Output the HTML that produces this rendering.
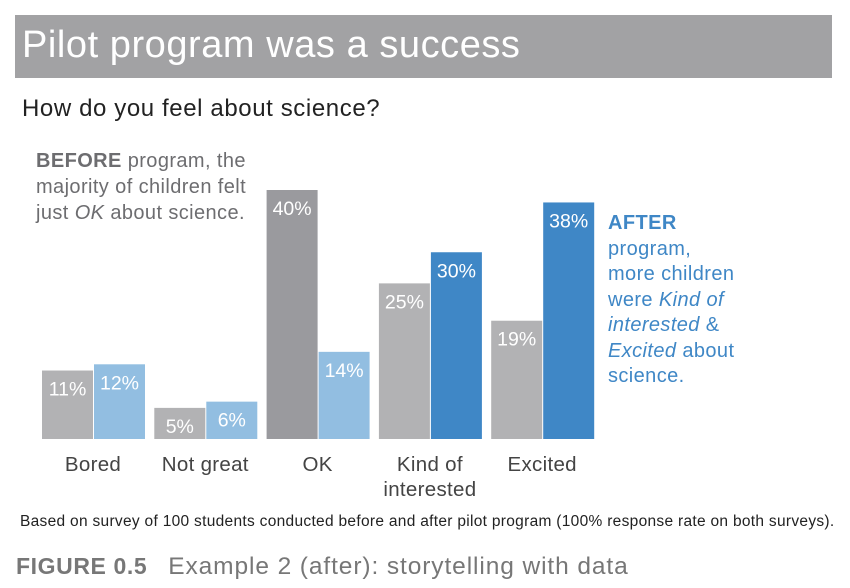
<!DOCTYPE html>
<html><head><meta charset="utf-8"><style>
body{margin:0;width:850px;height:588px;background:#fff;font-family:"Liberation Sans",sans-serif;overflow:hidden;position:relative}
.t{position:absolute;white-space:nowrap}
</style></head><body>
<div style="position:absolute;left:15px;top:15px;width:817px;height:63px;background:#a2a2a4"></div>
<div class="t" style="left:22px;top:24px;font-size:38px;color:#fff;letter-spacing:0.55px">Pilot program was a success</div>
<div class="t" style="left:22px;top:95px;font-size:24px;color:#222;letter-spacing:0.6px">How do you feel about science?</div>
<div class="t" style="left:36px;top:148px;font-size:20px;line-height:26px;color:#6d6d70;letter-spacing:0.4px"><b>BEFORE</b> program, the<br>majority of children felt<br>just <i>OK</i> about science.</div>
<div class="t" style="left:608px;top:211px;font-size:20px;line-height:25.5px;color:#3f87c6;letter-spacing:0.4px"><b>AFTER</b><br>program,<br>more children<br>were <i>Kind of</i><br><i>interested</i> &amp;<br><i>Excited</i> about<br>science.</div>
<svg id="chart" width="850" height="588" style="position:absolute;left:0;top:0"></svg>
<div class="t" style="left:20px;top:513px;font-size:15.5px;color:#222;letter-spacing:0.3px">Based on survey of 100 students conducted before and after pilot program (100% response rate on both surveys).</div>
<div class="t" style="left:16px;top:553px;font-size:23px;color:#777;letter-spacing:0.6px"><b style="font-weight:bold">FIGURE 0.5</b>&nbsp;&nbsp;&nbsp;<span style="font-size:24.5px;letter-spacing:0.9px">Example 2 (after): storytelling with data</span></div>
<script>
const categories=["Bored","Not great","OK","Kind of|interested","Excited"];
const before=[11,5,40,25,19];
const after=[12,6,14,30,38];
const beforeColors=["#b2b2b4","#b2b2b4","#9a9a9e","#b2b2b4","#b2b2b4"];
const afterColors=["#92bee1","#92bee1","#92bee1","#3f87c6","#3f87c6"];
const svg=document.getElementById('chart');
const NS='http://www.w3.org/2000/svg';
const base=439,scale=6.225,x0=42,step=112.3,bw=51;
const y=v=>base-v*scale;
function mk(t,a){const e=document.createElementNS(NS,t);for(const k in a)e.setAttribute(k,a[k]);svg.appendChild(e);return e;}
categories.forEach((c,i)=>{
  const gx=x0+i*step;
  [[before[i],beforeColors[i],gx,'before'],[after[i],afterColors[i],gx+bw+1,'after']].forEach(([v,col,x,s])=>{
    const r=mk('rect',{x:x,y:y(v),width:bw,height:base-y(v),fill:col});
    
    
    const tx=mk('text',{x:x+bw/2,y:y(v)+25,'text-anchor':'middle','font-size':'19.5',fill:'#fff','font-family':'Liberation Sans, sans-serif'});
    tx.textContent=v+'%';
    
    
  });
  c.split('|').forEach((ln,j)=>{
    const t=mk('text',{x:gx+bw,y:471+j*25,'text-anchor':'middle','font-size':'20.5',fill:'#444','font-family':'Liberation Sans, sans-serif','letter-spacing':'0.3'});
    t.textContent=ln;
    
    
  });
});
</script>
</body></html>
